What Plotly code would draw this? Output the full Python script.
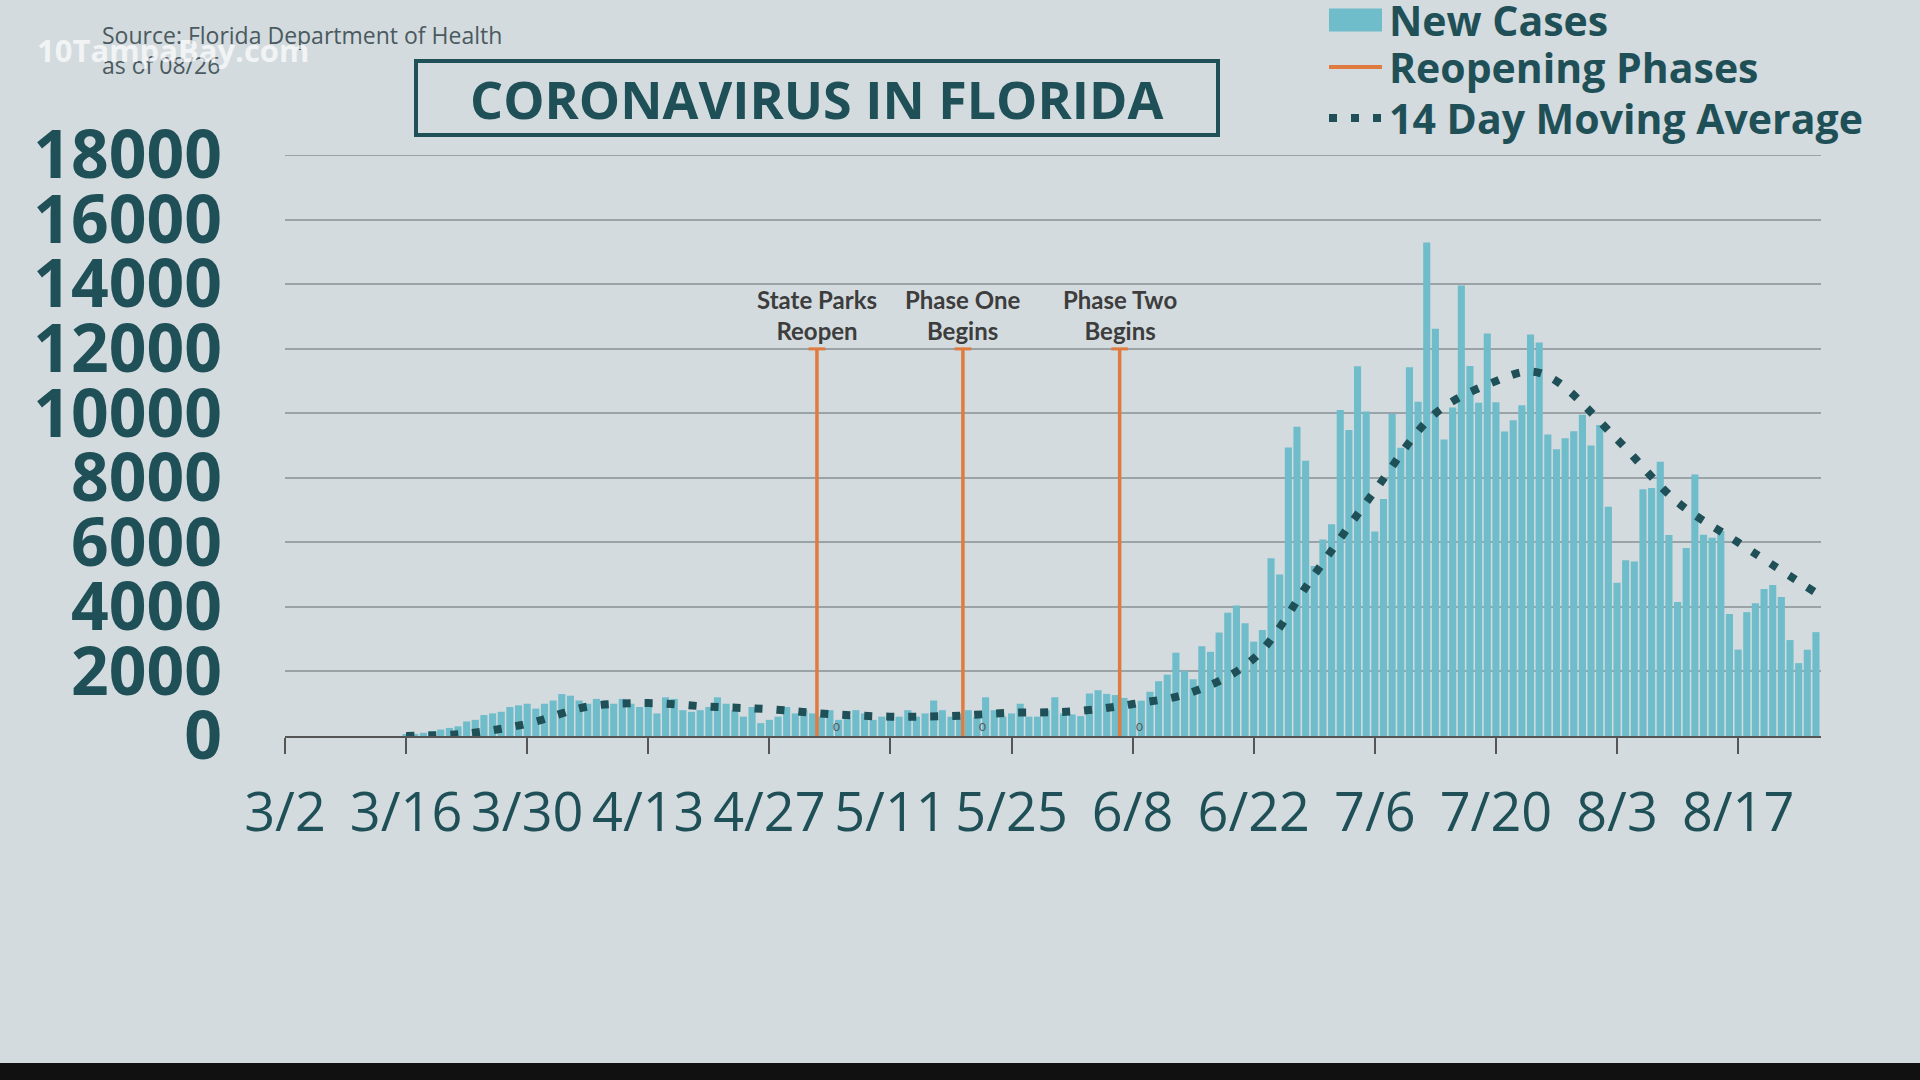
import plotly.graph_objects as go
import pandas as pd

start = "2020-03-16"
new_cases = [
    40, 60, 100, 150, 200, 250, 300, 450, 500, 650, 700, 750, 900, 950, 1000, 850,
    1000, 1100, 1300, 1250, 1100, 1000, 1150, 1100, 1000, 1150, 1000, 900, 1100, 700, 1200,
    1150, 800, 750, 800, 900, 1200, 1000, 800, 600, 900, 400, 500, 600, 900, 700,
    800, 700, 600, 800, 500, 600, 800, 700, 500, 600, 700, 600, 800, 600, 700, 1100,
    800, 600, 700, 800, 600, 1200, 800, 600, 700, 1000, 600, 600, 800, 1200, 700,
    667, 617, 1317, 1419, 1305, 1270, 1180, 966, 1096, 1371, 1698, 1902, 2581, 2016, 1758,
    2783, 2610, 3207, 3822, 4049, 3494, 2926, 3286, 5508, 5004, 8942, 9585, 8530, 5266, 6093,
    6563, 10109, 9488, 11458, 10059, 6336, 7347, 9989, 8935, 11433, 10360, 15300, 12624, 9194,
    10181, 13965, 11466, 10328, 12478, 10347, 9440, 9785, 10249, 12444, 12199, 9344, 8892,
    9230, 9446, 9956, 9007,
    9642, 7104, 4752, 5446, 5409, 7650, 7686, 8502, 6229, 4155, 5831, 8109, 6236, 6148,
    6352, 3779, 2678, 3838, 4115, 4555, 4684, 4311, 2974, 2258, 2673, 3220,
]
dates = pd.date_range(start, periods=len(new_cases), freq="D")

ma_dates = ["2020-03-16", "2020-03-23", "2020-03-30", "2020-04-06", "2020-04-13", "2020-04-20",
            "2020-04-27", "2020-05-04", "2020-05-11", "2020-05-18", "2020-05-25", "2020-06-01",
            "2020-06-08", "2020-06-15", "2020-06-22", "2020-06-29", "2020-07-06", "2020-07-13",
            "2020-07-20", "2020-07-24", "2020-07-27", "2020-08-03", "2020-08-10", "2020-08-17",
            "2020-08-26"]
ma_values = [0, 80, 380, 910, 1020, 910, 830, 680, 600, 620, 720, 760, 990, 1370, 2400, 5000,
             7600, 10000, 11000, 11300, 11000, 9200, 7250, 6000, 4440]

phase_dates = ["2020-05-02 12:00", "2020-05-19 09:00", "2020-06-06 12:00"]
phase_labels = ["State Parks<br>Reopen", "Phase One<br>Begins", "Phase Two<br>Begins"]
phase_height = 12000

tick_dates = ["2020-03-02", "2020-03-16", "2020-03-30", "2020-04-13", "2020-04-27", "2020-05-11",
              "2020-05-25", "2020-06-08", "2020-06-22", "2020-07-06", "2020-07-20", "2020-08-03",
              "2020-08-17"]
tick_text = ["3/2", "3/16", "3/30", "4/13", "4/27", "5/11", "5/25", "6/8", "6/22", "7/6",
             "7/20", "8/3", "8/17"]
y_ticks = list(range(0, 18001, 2000))
y_text = [str(v) for v in y_ticks]
y_max = 18000

BAR = "#6fbccb"
DARK = "#1f5058"
ORANGE = "#e07b3f"

fig = go.Figure()
fig.add_trace(go.Bar(x=dates, y=new_cases, marker=dict(color=BAR, line=dict(width=0)),
                     showlegend=False))
for d in phase_dates:
    fig.add_trace(go.Scatter(x=[d, d], y=[0, phase_height], mode="lines",
                             line=dict(color=ORANGE, width=3.5), showlegend=False))
    fig.add_trace(go.Scatter(x=[d], y=[phase_height], mode="markers",
                             marker=dict(symbol="line-ew", size=12, line=dict(color=ORANGE, width=3)),
                             showlegend=False))
fig.add_trace(go.Scatter(x=pd.to_datetime(ma_dates), y=ma_values, mode="lines",
                         line=dict(color=DARK, width=8, dash="8px,14px", shape="spline"),
                         showlegend=False))

for d, lab in zip(phase_dates, phase_labels):
    fig.add_annotation(x=d, y=phase_height, text=lab, showarrow=False, yanchor="bottom",
                       yshift=2, font=dict(family="Lato", size=24, color="#3d3d3d", weight="bold"))
    fig.add_annotation(x=pd.Timestamp(d) + pd.Timedelta(days=2.3), y=0, text="0", showarrow=False,
                       yanchor="bottom", font=dict(family="Lato", size=12, color="#555"))

fig.update_layout(
    width=1920, height=1080,
    margin=dict(l=285, r=99, t=155, b=344),
    paper_bgcolor="#d3dbde", plot_bgcolor="rgba(0,0,0,0)",
    bargap=0.18,
    xaxis=dict(type="date", range=["2020-03-02", "2020-08-26 14:00"], tickvals=tick_dates,
               ticktext=tick_text, showgrid=False, showline=True, linecolor="#555", linewidth=2,
               ticks="outside", ticklen=16, tickwidth=2, tickcolor="#555",
               tickfont=dict(family="Open Sans", size=54, color=DARK), ticklabelstandoff=12),
    yaxis=dict(range=[0, 18010], tickvals=y_ticks, ticktext=y_text, showgrid=True,
               gridcolor="#9aa3a7", gridwidth=1.5, zeroline=False,
               tickfont=dict(family="Open Sans", size=66, color=DARK, weight="bold"),
               ticklabelstandoff=62),
    font=dict(family="Open Sans"),
)

fig.add_shape(type="line", xref="paper", yref="y", x0=0, x1=1, y0=y_max, y1=y_max,
              line=dict(color="#9aa3a7", width=1.5), layer="below")

# title box
fig.add_shape(type="rect", xref="paper", yref="paper", x0=(416-285)/1536, x1=(1218-285)/1536,
              y0=(736-135)/581, y1=(736-61)/581, line=dict(color=DARK, width=4), fillcolor="rgba(0,0,0,0)")
fig.add_annotation(xref="paper", yref="paper", x=(817-285)/1536, y=(736-98)/581,
                   xanchor="center", yanchor="middle",
                   text="CORONAVIRUS IN FLORIDA", showarrow=False,
                   font=dict(family="Open Sans", size=52, color=DARK, weight="bold"))

# source
fig.add_annotation(xref="paper", yref="paper", x=(100-285)/1536, y=(736-50)/581, xanchor="left",
                   yanchor="middle", text="Source: Florida Department of Health<br>as of 08/26",
                   showarrow=False, align="left", font=dict(family="Open Sans", size=23, color="#4a5a60"))
fig.add_annotation(xref="paper", yref="paper", x=(35-285)/1536, y=(736-50)/581, xanchor="left",
                   yanchor="middle", text="10TampaBay.com", showarrow=False,
                   font=dict(family="Open Sans", size=31, color="rgba(255,255,255,0.7)", weight="bold"))

# legend
lx0, lx1 = (1329-285)/1536, (1382-285)/1536
ly = [(736-20)/581, (736-67)/581, (736-118)/581]
fig.add_shape(type="rect", xref="paper", yref="paper", x0=lx0, x1=lx1, y0=ly[0]-0.02, y1=ly[0]+0.02,
              fillcolor=BAR, line=dict(width=0))
fig.add_shape(type="line", xref="paper", yref="paper", x0=lx0, x1=lx1, y0=ly[1], y1=ly[1],
              line=dict(color=ORANGE, width=4))
fig.add_shape(type="line", xref="paper", yref="paper", x0=lx0, x1=lx1, y0=ly[2], y1=ly[2],
              line=dict(color=DARK, width=8, dash="8px,14px"))
for y, t in zip(ly, ["New Cases", "Reopening Phases", "14 Day Moving Average"]):
    fig.add_annotation(xref="paper", yref="paper", x=(1387-285)/1536, y=y, xanchor="left",
                       yanchor="middle", text=t, showarrow=False,
                       font=dict(family="Open Sans", size=41, color=DARK, weight="bold"))

# bottom black strip
fig.add_shape(type="rect", xref="paper", yref="paper", x0=-1, x1=2, y0=(736-1080)/581, y1=(736-1063)/581,
              fillcolor="#111", line=dict(width=0), layer="above")

fig.write_html("out.html", config={"displayModeBar": False},
               post_script="document.body.style.margin='0';document.body.style.overflow='hidden';")
